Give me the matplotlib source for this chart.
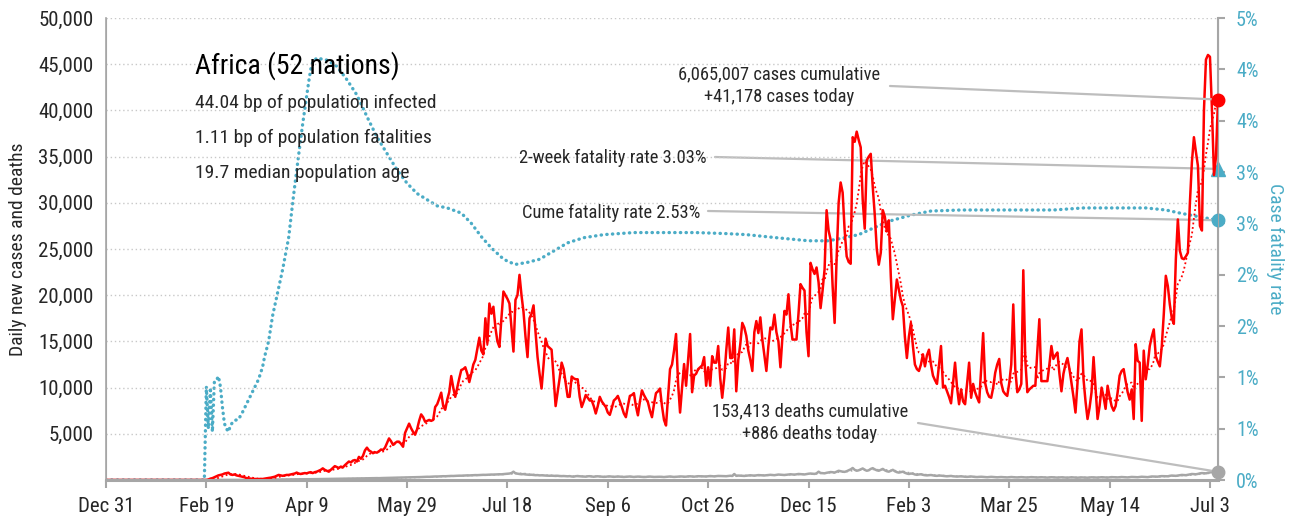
import numpy as np
import pandas as pd
import matplotlib
matplotlib.use('Agg')
import matplotlib.pyplot as plt
from matplotlib.ticker import FuncFormatter

plt.rcParams['font.family'] = ['Roboto Condensed', 'DejaVu Sans']
plt.rcParams['font.stretch'] = 'condensed'

# daily new cases (thousands), one value per day from 2019-12-31
cases_k = [
    0, 0, 0, 0, 0, 0, 0, 0, 0, 0,
    0, 0, 0, 0, 0, 0, 0, 0, 0, 0,
    0, 0, 0, 0, 0, 0, 0, 0, 0, 0,
    0, 0, 0, 0, 0, 0, 0, 0, 0, 0,
    0, 0, 0, 0, 0, 0, 0, 0, 0, 0,
    0.0, 0.05, 0.15, 0.2, 0.3, 0.4, 0.5, 0.55, 0.6, 0.7,
    0.75, 0.79, 0.6, 0.55, 0.6, 0.5, 0.45, 0.4, 0.35, 0.3,
    0.2, 0.18, 0.15, 0.12, 0.11, 0.1, 0.1, 0.12, 0.11, 0.15,
    0.2, 0.22, 0.25, 0.3, 0.35, 0.45, 0.55, 0.5, 0.45, 0.5,
    0.55, 0.55, 0.6, 0.65, 0.7, 0.8, 0.7, 0.65, 0.7, 0.75,
    0.72, 0.8, 0.85, 0.75, 0.85, 0.9, 1.0, 1.1, 1.26, 1.1,
    1.0, 0.9, 1.1, 1.3, 1.5, 1.4, 1.3, 1.45, 1.37, 1.6,
    1.8, 2.0, 1.9, 2.1, 2.16, 2.0, 2.5, 2.3, 2.6, 3.2,
    3.5, 3.2, 3.07, 2.9, 3.0, 2.96, 3.1, 3.3, 3.25, 3.5,
    4.0, 4.5, 4.2, 3.8, 4.0, 4.15, 4.15, 3.9, 3.6, 5.1,
    5.6, 6.1, 5.6, 5.2, 4.9, 5.5, 6.4, 7.1, 6.8, 6.3,
    6.4, 6.5, 6.4, 6.5, 7.9, 8.2, 8.8, 9.45, 8.0, 7.6,
    8.7, 9.5, 11.25, 10.0, 9.0, 10.0, 11.0, 11.9, 12.0, 12.2,
    11.5, 10.6, 11.5, 12.5, 13.0, 14.2, 15.4, 14.0, 13.6, 17.5,
    14.8, 19.1, 18.0, 18.75, 16.5, 15.0, 14.4, 17.5, 20.4, 20.0,
    19.6, 19.1, 16.5, 13.9, 19.5, 20.0, 22.2, 20.0, 18.2, 15.5,
    13.3, 17.5, 18.0, 18.9, 16.0, 13.3, 11.5, 9.9, 12.5, 15.3,
    14.5, 14.3, 14.1, 11.0, 8.0, 9.5, 11.0, 12.7, 12.0, 10.5,
    9.0, 9.0, 11.2, 11.0, 10.9, 10.9, 9.0, 7.9, 8.5, 9.2,
    8.9, 8.6, 8.6, 8.0, 7.2, 8.0, 9.0, 8.5, 8.2, 7.9,
    7.3, 7.05, 7.8, 8.6, 8.8, 9.1, 8.5, 7.9, 7.2, 6.8,
    8.0, 9.1, 9.2, 9.4, 8.0, 7.0, 8.5, 9.7, 9.2, 8.8,
    8.4, 7.5, 6.8, 8.2, 9.4, 9.6, 9.9, 8.0, 6.5, 5.9,
    9.0, 12.0, 12.5, 14.0, 15.8, 10.5, 7.3, 10.0, 12.55, 10.2,
    13.0, 15.8, 9.5, 11.3, 11.5, 12.0, 12.2, 12.4, 13.3, 10.2,
    12.2, 10.2, 13.4, 12.7, 12.7, 14.5, 11.0, 8.9, 11.0, 14.0,
    16.5, 13.2, 13.2, 16.3, 9.6, 13.0, 14.7, 17.0, 16.5, 15.6,
    14.0, 13.0, 11.8, 16.0, 17.2, 15.9, 17.6, 15.2, 13.5, 11.8,
    14.5, 16.5, 16.3, 17.9, 16.0, 15.0, 12.2, 15.5, 18.3, 17.9,
    20.1, 17.0, 15.2, 15.2, 15.2, 18.0, 21.2, 20.8, 20.5, 16.0,
    13.4, 23.5, 22.8, 22.3, 23.0, 21.4, 18.6, 20.5, 22.8, 29.2,
    27.0, 26.0, 21.0, 17.0, 24.0, 30.0, 32.2, 31.1, 27.0, 24.2,
    23.6, 23.4, 37.1, 36.6, 37.7, 36.8, 36.0, 30.3, 27.2, 34.6,
    35.0, 35.3, 31.7, 28.7, 25.0, 23.3, 24.6, 29.2, 28.5, 26.9,
    28.1, 22.0, 17.4, 19.5, 21.7, 20.6, 19.5, 18.8, 15.5, 13.2,
    15.5, 17.0, 14.5, 12.5, 12.0, 11.8, 12.5, 13.6, 12.3, 13.5,
    14.1, 12.5, 11.3, 10.8, 10.4, 12.5, 14.5, 10.0, 10.2, 9.6,
    9.0, 8.3, 10.5, 12.7, 10.0, 8.2, 9.8, 8.5, 8.2, 10.5,
    12.7, 8.9, 10.4, 9.5, 8.9, 8.4, 12.0, 15.9, 10.5, 9.5,
    9.0, 8.9, 10.0, 11.6, 12.5, 13.1, 10.5, 9.6, 9.3, 9.1,
    10.5, 12.5, 19.0, 12.0, 9.5, 9.8, 10.4, 22.7, 13.0, 9.5,
    9.8, 10.0, 10.2, 10.2, 14.0, 17.4, 10.7, 10.7, 10.7, 10.7,
    12.5, 14.5, 13.1, 13.5, 13.8, 11.5, 9.6, 11.5, 12.5, 13.2,
    12.0, 10.5, 9.0, 7.3, 10.5, 15.0, 16.3, 10.9, 8.5, 6.6,
    7.8, 9.5, 13.3, 10.0, 6.6, 8.0, 10.0, 9.0, 7.7, 10.2,
    9.0, 8.0, 7.5, 8.0, 9.5, 11.3, 11.8, 12.0, 10.7, 9.5,
    8.7, 9.8, 6.6, 14.7, 12.9, 12.7, 6.4, 14.0, 10.9, 12.5,
    14.5, 15.5, 16.3, 13.4, 12.8, 12.3, 14.5, 18.0, 22.1, 21.0,
    19.0, 17.5, 16.9, 23.9, 28.2, 24.8, 24.0, 23.9, 24.2, 24.6,
    30.0, 34.4, 37.1, 35.5, 34.0, 27.5, 27.0, 40.0, 45.5, 46.0,
    45.8, 40.0, 33.0, 35.0, 41.178,
]

# daily new deaths, one value per day from 2020-02-19
deaths = [
    0, 0, 0, 1, 1, 2, 2, 3, 3, 4, 5, 6, 6, 7, 8, 8, 9, 10, 10, 12,
    14, 15, 16, 18, 20, 22, 25, 27, 30, 33, 36, 38, 40, 42, 45, 47, 50, 52, 55, 57,
    60, 62, 64, 66, 68, 70, 72, 74, 75, 78,
    80, 85, 88, 90, 95, 98, 100, 105, 110, 112, 115, 118, 120, 125, 130, 128, 132, 138, 140, 145,
    150, 155, 152, 158, 160, 165, 170, 168, 175, 180, 185, 182, 190, 195, 200, 205, 198, 210, 215, 220,
    225, 230, 228, 235, 240, 245, 250, 248, 255, 260,
    270, 280, 275, 290, 300, 310, 305, 320, 330, 340, 350, 345, 360, 370, 380, 375, 390, 400, 410, 405,
    420, 430, 440, 435, 450, 460, 470, 465, 480, 490, 500, 495, 510, 520, 530, 525, 540, 550, 560, 555,
    570, 580, 590, 585, 600, 610, 620, 615, 640, 660,
    680, 700, 750, 900, 720, 680, 650, 620, 640, 600, 580, 560, 570, 540, 520, 530, 500, 510, 490, 480,
    470, 460, 470, 450, 440, 460, 430, 420, 430, 410,
    400, 420, 380, 360, 410, 430, 400, 390, 370, 360, 400, 410, 380, 350, 390, 400, 380, 360, 340, 350,
    380, 390, 370, 340, 360, 380, 360, 340, 330, 350, 370, 380, 350, 330, 350, 370, 360, 340, 320, 330,
    360, 370, 350, 330, 340, 360, 350, 330, 320, 340, 370, 380, 360, 330, 350, 380, 380, 380, 350, 360,
    390, 400, 380, 360, 380, 410, 400, 390, 370, 380, 410, 430, 410, 390, 410, 440, 430, 420, 400, 410,
    440, 460, 440, 650, 450, 480, 470, 460, 440, 460, 490, 510, 490, 470, 500, 530, 520, 510, 490, 510,
    540, 560, 540, 520, 560, 590, 570, 560, 540, 570, 600, 620, 600, 580, 620, 650, 640, 620, 600, 640,
    680, 700, 680, 660, 720, 900, 760, 740, 720, 780,
    820, 860, 840, 800, 900, 1000, 950, 900, 880, 950, 1050, 1150, 1300, 1100, 1000, 1050, 1150, 1250, 1100, 1000,
    1050, 1200, 1280, 1150, 1050, 1000, 1100, 1200, 1050, 950, 900, 1000, 1100, 950, 850, 800, 850, 900, 780, 700,
    650, 700, 680, 600, 560, 600, 620, 560, 520, 500, 520, 540, 500, 460, 450, 480, 470, 440, 420, 400,
    420, 440, 400, 380, 370, 390, 400, 370, 350, 340, 360, 380, 350, 330, 320, 340, 350, 330, 310, 300,
    320, 340, 320, 300, 290, 310, 320, 300, 290, 280,
    300, 320, 300, 290, 280, 300, 310, 290, 280, 270, 290, 310, 300, 280, 270, 290, 300, 290, 270, 260,
    280, 300, 290, 270, 260, 280, 290, 280, 260, 250, 270, 290, 280, 260, 250, 270, 280, 270, 260, 250,
    270, 290, 280, 260, 260, 280, 300, 290, 270, 260,
    290, 310, 300, 280, 280, 300, 320, 310, 290, 280, 310, 330, 320, 300, 300, 330, 350, 340, 320, 310,
    350, 380, 370, 350, 360, 400, 420, 410, 390, 400, 450, 480, 470, 450, 480, 520, 550, 540, 520, 560,
    600, 650, 640, 620, 660, 720, 750, 740, 720, 780, 820, 860, 840, 800, 886,
]

# case fatality rate (%), by day since 2019-12-31
cfr_day = [0, 49, 50, 51, 52, 53, 54, 55, 56, 57, 58, 59, 60, 61, 62, 63, 64, 66, 68, 70,
           72, 74, 76, 78, 79, 81, 83, 86, 88, 91, 93, 94, 96, 98, 101, 102, 103, 105, 110, 115,
           120, 125, 130, 135, 140, 145, 150, 155, 160, 165, 170, 177, 182, 187, 192, 197, 200, 204, 210, 216,
           223, 230, 238, 248, 263, 278, 294, 309, 319, 334, 350, 360, 368, 375, 383, 390, 401, 411, 426, 441,
           456, 472, 487, 502, 518, 528, 535, 543, 554]
cfr_pct = [0.0, 0.0, 0.91, 0.5, 0.9, 0.47, 0.96, 0.97, 1.01, 0.91, 0.71, 0.55, 0.5, 0.47, 0.53, 0.56, 0.58, 0.59, 0.66, 0.74,
           0.82, 0.9, 0.98, 1.1, 1.2, 1.35, 1.6, 1.87, 2.05, 2.36, 2.7, 2.86, 3.17, 3.47, 3.88, 4.0, 4.07, 4.11, 4.09, 4.03,
           3.9, 3.75, 3.54, 3.34, 3.18, 3.02, 2.89, 2.79, 2.73, 2.67, 2.65, 2.6, 2.5, 2.37, 2.26, 2.17, 2.13, 2.1, 2.12, 2.15,
           2.23, 2.31, 2.36, 2.39, 2.41, 2.41, 2.41, 2.4, 2.39, 2.36, 2.33, 2.33, 2.36, 2.39, 2.46, 2.52, 2.58, 2.62, 2.63, 2.63,
           2.63, 2.63, 2.65, 2.65, 2.65, 2.63, 2.6, 2.57, 2.53]

cases_total = 6065007
cases_today = 41178
deaths_total = 153413
deaths_today = 886
cfr_cume = 2.53
cfr_2wk = 3.03

region = 'Africa (52 nations)'
facts = ['44.04 bp of population infected',
         '1.11 bp of population fatalities',
         '19.7 median population age']

RED = '#FF0000'
CYAN = '#4BACC6'
GRAY = '#A6A6A6'
LINE = '#BDBDBD'
TXT = '#262626'

start = pd.Timestamp('2019-12-31')
case_dates = pd.date_range(start, periods=len(cases_k))
death_dates = pd.date_range('2020-02-19', periods=len(deaths))
cfr_dates = start + pd.to_timedelta(cfr_day, unit='D')
last = case_dates[-1]

cases = pd.Series(cases_k, index=case_dates) * 1000
deaths_s = pd.Series(deaths, index=death_dates).reindex(case_dates, fill_value=0)

W, H = 1297, 520
fig = plt.figure(figsize=(W / 100, H / 100), dpi=100)
ax = fig.add_axes([106 / W, 1 - 480 / H, (1218 - 106) / W, 462 / H])
ax2 = ax.twinx()
ax.set_zorder(ax2.get_zorder() + 1)
ax.patch.set_visible(False)

# fatality rate on the right axis
ax2.plot(cfr_dates, cfr_pct, color=CYAN, lw=2.4, linestyle=(0, (0.1, 1.6)),
         dash_capstyle='round')
ax2.set_ylim(0, 4.5)
ax2.set_yticks(np.arange(0, 4.51, 0.5))
ax2.yaxis.set_major_formatter(FuncFormatter(lambda v, p: f'{int(np.floor(v + 0.5 + 1e-9))}%'))
ax2.tick_params(axis='y', colors=GRAY, labelcolor=CYAN, labelsize=14.5, length=5, width=1.5, pad=8)
ax2.set_ylabel('Case fatality rate', color=CYAN, fontsize=14, rotation=270, va='center')
ax2.yaxis.set_label_coords((1275 - 106) / 1112, 0.5)

# cases and deaths on the left axis
ax.plot(deaths_s.index, deaths_s.rolling(7).mean(), color=GRAY, lw=1.2, linestyle=':')
ax.plot(deaths_s.index, deaths_s, color=GRAY, lw=1.8)
ax.plot(cases.index, cases.rolling(7).mean(), color=RED, lw=1.3, linestyle=(0, (1, 1.5)))
ax.plot(cases.index, cases, color=RED, lw=1.8)

ax.set_ylim(0, 50000)
ax.set_yticks(np.arange(0, 50001, 5000))
ax.yaxis.set_major_formatter(FuncFormatter(lambda v, p: '' if v == 0 else f'{v:,.0f}'))
ax.set_xlim(start, last)
xt = pd.date_range(start, periods=12, freq='50D')
ax.set_xticks(xt)
ax.set_xticklabels([f'{d:%b} {d.day}' for d in xt])
ax.tick_params(axis='x', colors=GRAY, labelcolor=TXT, labelsize=15, length=6, width=1.5, pad=6)
ax.tick_params(axis='y', length=0, labelcolor=TXT, labelsize=15, pad=9)
ax.set_ylabel('Daily new cases and deaths', color=TXT, fontsize=14, va='center')
ax.yaxis.set_label_coords((18 - 106) / 1112, 0.5)
ax.yaxis.grid(True, color='#C8C8C8', linestyle=(0, (1, 2)), lw=1)

for a in (ax, ax2):
    a.spines['top'].set_visible(False)
    for s in ('left', 'right', 'bottom'):
        a.spines[s].set_color(GRAY)
ax.spines['bottom'].set_linewidth(2.2)
ax2.spines['right'].set_linewidth(1.5)
ax.spines['left'].set_linewidth(1.2)

# end-of-series markers
ax.plot([last], [cases_today], 'o', color=RED, ms=9, clip_on=False, zorder=5)
ax.plot([last], [deaths_today], 'o', color=GRAY, ms=9, clip_on=False, zorder=5)
ax2.plot([last], [cfr_2wk], '^', color=CYAN, ms=10, clip_on=False, zorder=5)
ax2.plot([last], [cfr_cume], 'o', color=CYAN, ms=9, clip_on=False, zorder=5)

# header block
fig.text(195 / W, 1 - 66 / H, region, fontsize=20, color='black', va='center', ha='left')
for i, line in enumerate(facts):
    fig.text(195 / W, 1 - (103 + 35 * i) / H, line, fontsize=14, color=TXT, va='center', ha='left')

# callouts
def callout(axis, xy, text_xy, lines, line_start, ha='center'):
    for i, t in enumerate(lines):
        fig.text(text_xy[0] / W, 1 - (text_xy[1] + 23 * i) / H, t, fontsize=13.3, color=TXT,
                 ha=ha, va='center')
    axis.annotate('', xy=xy, xycoords='data', xytext=(line_start[0], H - line_start[1]),
                  textcoords='figure pixels',
                  arrowprops=dict(arrowstyle='-', color=LINE, lw=1.6, shrinkA=0, shrinkB=0))

callout(ax, (last, cases_today), (779, 74),
        [f'{cases_total:,} cases cumulative', f'+{cases_today:,} cases today'], (890, 86))
callout(ax2, (last, cfr_2wk), (707, 158), [f'2-week fatality rate {cfr_2wk:.2f}%'], (715, 157), ha='right')
callout(ax2, (last, cfr_cume), (700, 213), [f'Cume fatality rate {cfr_cume:.2f}%'], (708, 211), ha='right')
callout(ax, (last, deaths_today), (810, 411),
        [f'{deaths_total:,} deaths cumulative', f'+{deaths_today:,} deaths today'], (918, 423))

fig.savefig('out.png', dpi=100)
